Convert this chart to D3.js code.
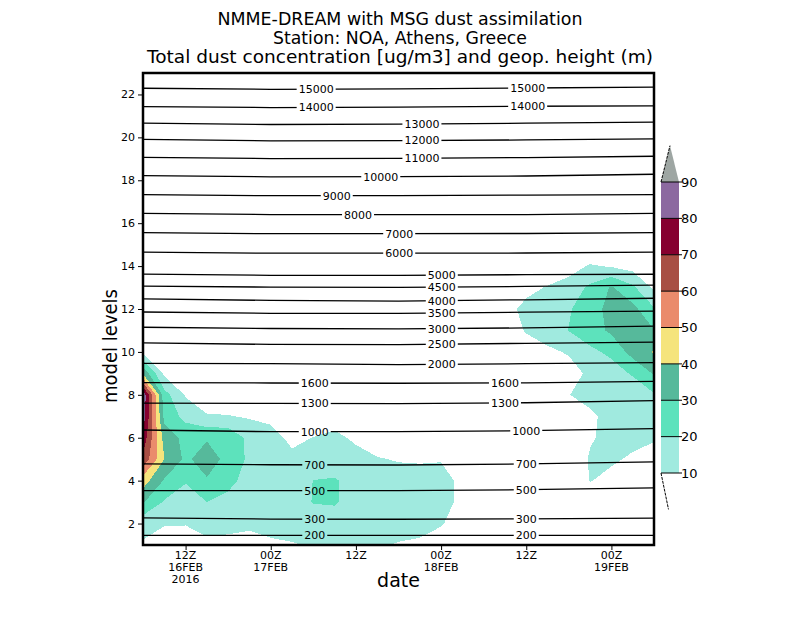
<!DOCTYPE html>
<html>
<head>
<meta charset="utf-8">
<script src="https://cdn.jsdelivr.net/npm/d3@7"></script>
<style>
  body { margin: 0; background: #fff; }
  text { font-family: "DejaVu Sans", sans-serif; fill: #000; }
</style>
</head>
<body>
<svg id="chart"></svg>
<script>
// time axis: 3-hourly model output from 06Z 16FEB2016 to 06Z 19FEB2016
const startTime = Date.UTC(2016, 1, 16, 6);
const endTime = Date.UTC(2016, 1, 19, 6);
const stepHours = 3;

// dust concentration [ug/m3], one row per model level (level 1 first), one column every 3 h
const dust = [
  [ 9,  3,  5,  8,  8,  8,  9, 9.5, 10.5, 12, 12, 11, 9.3, 8,  4, 0, 0, 0, 0, 0,  0,    0,  0,  0,    0],
  [13, 11, 10.5, 13, 12, 11, 12, 13, 14, 15, 15, 15, 14, 14, 11, 4, 0, 0, 0, 0,  0,    0,  0,  0,    0],
  [31, 19, 14, 20, 17, 14, 14, 15, 20.5, 21, 16, 16, 15, 15, 13, 8, 2, 0, 0, 0,  0,    5,  3,  0,    0],
  [45, 29, 21, 29, 23, 16, 15, 14, 20.2, 21, 16, 15, 13, 13, 13, 8, 2, 0, 0, 0,  2, 10.3,  8,  5,    5],
  [68, 40, 28, 35, 27, 18, 15, 12, 13, 14, 13, 10.5, 9.5, 9.2, 9.5, 4, 0, 0, 0, 0,  4, 10.8, 11,  9,    8],
  [77, 36, 27, 29, 28, 17, 13,  8, 10.2, 12, 8.5, 6, 4, 3,  2, 0, 0, 0, 0, 0,  2,  9.3, 12, 12, 10.5],
  [86, 27, 17, 11, 10.5, 9, 8,  3,  5,  6,  2, 0, 0, 0,  0, 0, 0, 0, 0, 0,  4,  8.3, 13, 13,   15],
  [88, 24,  9,  3,  2,  0,  0,  0,  0,  0,  0, 0, 0, 0,  0, 0, 0, 0, 0, 0, 9.8,  13, 15, 14,   19],
  [38,  8,  2,  0,  0,  0,  0,  0,  0,  0,  0, 0, 0, 0,  0, 0, 0, 0, 0, 3,  6,   12, 16, 21,   31],
  [ 7,  0,  0,  0,  0,  0,  0,  0,  0,  0,  0, 0, 0, 0,  0, 0, 0, 0, 4, 8, 11,   18, 22, 34,   41],
  [ 0,  0,  0,  0,  0,  0,  0,  0,  0,  0,  0, 0, 0, 0,  0, 0, 0, 3, 11, 15, 20.3, 25, 32, 35, 30.5],
  [ 0,  0,  0,  0,  0,  0,  0,  0,  0,  0,  0, 0, 0, 0,  0, 0, 0, 5, 14, 17, 19,  26, 33, 33,   21],
  [ 0,  0,  0,  0,  0,  0,  0,  0,  0,  0,  0, 0, 0, 0,  0, 0, 0, 0, 6, 11, 14,  22, 31, 22,    8],
  [ 0,  0,  0,  0,  0,  0,  0,  0,  0,  0,  0, 0, 0, 0,  0, 0, 0, 0, 0, 0,  6,   11,  9,  6,    3],
  [ 0,  0,  0,  0,  0,  0,  0,  0,  0,  0,  0, 0, 0, 0,  0, 0, 0, 0, 0, 0,  0,    0,  0,  0,    0]
];

const dustThresholds = [10, 20, 30, 40, 50, 60, 70, 80, 90];
const dustColors = ["#a0eadf", "#5de2bc", "#56b99b", "#f5e47c", "#ea8b6c",
                    "#a84e44", "#86002f", "#8c69a0", "#9ea6a3"];

// geopotential height contours (m): model level at 06Z16, 00Z17, 18Z17, 12Z18, 06Z19
const geopHours = [0, 18, 36, 54, 72];
const geopValues = [15000, 14000, 13000, 12000, 11000, 10000, 9000, 8000, 7000, 6000,
                    5000, 4500, 4000, 3500, 3000, 2500, 2000, 1600, 1300, 1000, 700, 500, 300, 200];
const geopLevels = [
  [22.29, 22.24, 22.26, 22.30, 22.34],
  [21.43, 21.39, 21.41, 21.45, 21.47],
  [20.66, 20.60, 20.62, 20.66, 20.71],
  [19.91, 19.84, 19.85, 19.88, 19.93],
  [19.07, 19.01, 19.02, 19.06, 19.12],
  [18.22, 18.16, 18.17, 18.20, 18.28],
  [17.33, 17.28, 17.28, 17.31, 17.33],
  [16.46, 16.40, 16.40, 16.40, 16.46],
  [15.56, 15.51, 15.51, 15.52, 15.56],
  [14.65, 14.60, 14.60, 14.61, 14.65],
  [13.63, 13.57, 13.57, 13.60, 13.62],
  [13.07, 13.02, 13.01, 13.05, 13.11],
  [12.47, 12.40, 12.37, 12.43, 12.50],
  [11.86, 11.80, 11.80, 11.85, 11.90],
  [11.15, 11.09, 11.07, 11.12, 11.20],
  [10.42, 10.35, 10.34, 10.40, 10.46],
  [ 9.47,  9.45,  9.41,  9.45,  9.50],
  [ 8.57,  8.55,  8.54,  8.56,  8.63],
  [ 7.61,  7.60,  7.59,  7.63,  7.73],
  [ 6.36,  6.28,  6.28,  6.33,  6.42],
  [ 4.78,  4.74,  4.73,  4.78,  4.87],
  [ 3.53,  3.53,  3.53,  3.58,  3.66],
  [ 2.26,  2.21,  2.20,  2.22,  2.25],
  [ 1.45,  1.45,  1.45,  1.45,  1.45]
];
// hours after 06Z16 where each contour carries its label
const geopLabelHours = [
  [24.4, 54.2], [24.4, 54.2], [39.3], [39.3], [39.3], [33.5], [27.3], [30.3], [36.1], [36.1],
  [42.1], [42.1], [42.1], [42.1], [42.1], [42.1], [42.1],
  [24.2, 51], [24.2, 51], [24.2, 54], [24.2, 54], [24.2, 54], [24.2, 54], [24.2, 54]
];

const yTicks = [2, 4, 6, 8, 10, 12, 14, 16, 18, 20, 22];
const xTickHours = [6, 18, 30, 42, 54, 66];
const xTickLines = [["12Z", "16FEB", "2016"], ["00Z", "17FEB"], ["12Z"], ["00Z", "18FEB"], ["12Z"], ["00Z", "19FEB"]];

const titleLines = ["NMME-DREAM with MSG dust assimilation",
                    "Station: NOA, Athens, Greece",
                    "Total dust concentration [ug/m3] and geop. height (m)"];

const width = 800, height = 618;
const margin = {top: 73, right: 146, bottom: 73, left: 143};
const plotW = width - margin.left - margin.right;
const plotH = height - margin.top - margin.bottom;

const svg = d3.select("#chart").attr("width", width).attr("height", height);
const defs = svg.append("defs");

const x = d3.scaleUtc().domain([new Date(startTime), new Date(endTime)]).range([0, plotW]);
const y = d3.scaleLinear().domain([1, 23]).range([plotH, 0]);
const atHour = h => new Date(startTime + h * 3600e3);

const chart = svg.append("g").attr("transform", `translate(${margin.left},${margin.top})`);

defs.append("clipPath").attr("id", "plotClip")
  .append("rect").attr("width", plotW).attr("height", plotH);

// shaded dust concentration
const nCols = dust[0].length, nRows = dust.length;
const contours = d3.contours().size([nCols, nRows]).thresholds(dustThresholds)(dust.flat());
// contour grid coords: value index i sits at i + 0.5
const gridProj = d3.geoTransform({
  point(gx, gy) {
    this.stream.point(x(atHour((gx - 0.5) * stepHours)), y(1 + gy - 0.5));
  }
});
const gridPath = d3.geoPath(gridProj);

chart.append("g")
  .attr("clip-path", "url(#plotClip)")
  .selectAll("path")
  .data(contours)
  .join("path")
  .attr("d", gridPath)
  .attr("fill", (d, i) => dustColors[i])
  .attr("shape-rendering", "crispEdges");

// geopotential height lines, broken where labels sit
const gapMask = defs.append("mask").attr("id", "gapMask")
  .attr("maskUnits", "userSpaceOnUse")
  .attr("x", -10).attr("y", -10).attr("width", plotW + 20).attr("height", plotH + 20);
gapMask.append("rect").attr("x", -10).attr("y", -10)
  .attr("width", plotW + 20).attr("height", plotH + 20).attr("fill", "#fff");

const geopLine = d3.line()
  .x((d, i) => x(atHour(geopHours[i])))
  .y(d => y(d));

chart.append("g")
  .attr("clip-path", "url(#plotClip)")
  .append("g")
  .attr("mask", "url(#gapMask)")
  .selectAll("path")
  .data(geopLevels)
  .join("path")
  .attr("d", geopLine)
  .attr("fill", "none")
  .attr("stroke", "#000")
  .attr("stroke-width", 1.3);

const geopLabels = [];
geopValues.forEach((v, k) => {
  const levelAt = d3.scaleLinear().domain(geopHours).range(geopLevels[k]);
  geopLabelHours[k].forEach(h => geopLabels.push({value: v, hour: h, level: levelAt(h)}));
});

const labelG = chart.append("g");
labelG.selectAll("text")
  .data(geopLabels)
  .join("text")
  .attr("x", d => x(atHour(d.hour)))
  .attr("y", d => y(d.level))
  .attr("dy", "0.36em")
  .attr("text-anchor", "middle")
  .style("font-size", "11px")
  .text(d => d.value)
  .each(function () {
    const b = this.getBBox();
    gapMask.append("rect")
      .attr("x", b.x - 2).attr("y", b.y)
      .attr("width", b.width + 4).attr("height", b.height)
      .attr("fill", "#000");
  });

// axes
const yAxisG = chart.append("g")
  .call(d3.axisLeft(y).tickValues(yTicks).tickSize(5).tickPadding(3));
yAxisG.select(".domain").remove();
yAxisG.attr("font-family", null).attr("font-size", null);
yAxisG.selectAll("text").style("font-size", "11px");

const xAxisG = chart.append("g")
  .attr("transform", `translate(0,${plotH})`)
  .call(d3.axisBottom(x).tickValues(xTickHours.map(atHour)).tickSize(5).tickFormat(""));
xAxisG.select(".domain").remove();

xTickHours.forEach((h, i) => {
  const t = chart.append("text")
    .attr("x", x(atHour(h)))
    .attr("y", plotH + 14)
    .attr("text-anchor", "middle")
    .style("font-size", "11px");
  xTickLines[i].forEach((line, j) => {
    t.append("tspan").attr("x", x(atHour(h))).attr("dy", j === 0 ? 0 : 12).text(line);
  });
});

// frame
chart.append("rect")
  .attr("width", plotW).attr("height", plotH)
  .attr("fill", "none").attr("stroke", "#000").attr("stroke-width", 2.5);

// titles
const titleWidths = [365, 254, 506];
titleLines.forEach((line, i) => {
  svg.append("text")
    .attr("x", width / 2)
    .attr("y", 25 + i * 19)
    .attr("text-anchor", "middle")
    .attr("textLength", titleWidths[i])
    .attr("lengthAdjust", "spacingAndGlyphs")
    .style("font-size", "18px")
    .text(line);
});

svg.append("text")
  .attr("transform", `translate(117,${margin.top + plotH / 2 + 37}) rotate(-90)`)
  .attr("text-anchor", "middle")
  .attr("textLength", 114)
  .attr("lengthAdjust", "spacingAndGlyphs")
  .style("font-size", "19px")
  .text("model levels");

svg.append("text")
  .attr("x", margin.left + plotW / 2)
  .attr("y", 587)
  .attr("text-anchor", "middle")
  .style("font-size", "19px")
  .text("date");

// colour bar
const cb = svg.append("g").attr("transform", "translate(661,0)");
const cbW = 18;
const cbY = d3.scaleLinear().domain([10, 90]).range([473, 182]);
const cbStep = cbY(10) - cbY(20);

cb.selectAll("rect")
  .data(dustThresholds.slice(0, -1))
  .join("rect")
  .attr("x", 0)
  .attr("y", (d, i) => cbY(dustThresholds[i + 1]))
  .attr("width", cbW)
  .attr("height", (d, i) => cbY(d) - cbY(dustThresholds[i + 1]))
  .attr("fill", (d, i) => dustColors[i]);

cb.append("path")
  .attr("d", `M0,${cbY(90)}L${cbW},${cbY(90)}L${cbW / 2},${cbY(90) - cbStep}Z`)
  .attr("fill", dustColors[8]);
cb.append("path")
  .attr("d", `M0,${cbY(90)}L${cbW / 2},${cbY(90) - cbStep}`)
  .attr("stroke", "#000").attr("stroke-width", 1).attr("stroke-dasharray", "3,1");
cb.append("path")
  .attr("d", `M0,${cbY(10)}L${cbW / 2 - 1.5},${cbY(10) + cbStep}`)
  .attr("stroke", "#000").attr("stroke-width", 1).attr("stroke-dasharray", "3,1");

cb.selectAll("line")
  .data(dustThresholds)
  .join("line")
  .attr("x1", 0).attr("x2", cbW + 3)
  .attr("y1", d => cbY(d)).attr("y2", d => cbY(d))
  .attr("stroke", "#000").attr("stroke-width", 1);

cb.selectAll("text")
  .data(dustThresholds)
  .join("text")
  .attr("x", cbW + 2)
  .attr("y", d => cbY(d))
  .attr("dy", "0.36em")
  .style("font-size", "13px")
  .text(d => d);
</script>
</body>
</html>
